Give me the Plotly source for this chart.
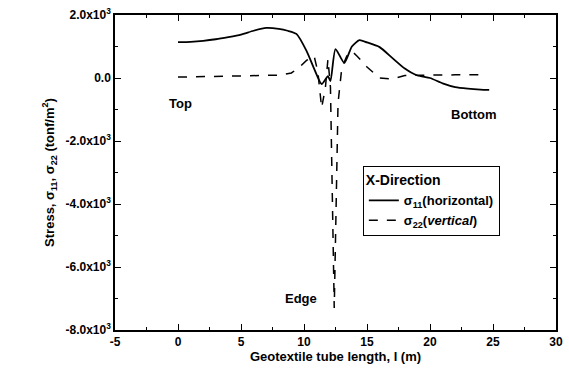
import plotly.graph_objects as go

# sigma_11 (horizontal), solid
l11 = [0, 1, 2, 3, 4, 5, 6, 7, 8, 8.7, 9.4, 10.2, 10.8, 11.4, 11.9, 12.1, 12.5, 13.2,
       13.8, 14.4, 15, 16, 17, 18, 19, 20, 21, 22, 23, 24, 24.7]
s11 = [1140, 1150, 1180, 1230, 1300, 1380, 1500, 1590, 1560, 1500, 1400, 860, 300, -190,
       60, -100, 920, 480, 1000, 1200, 1130, 980, 640, 300, 80, 0, -170, -290, -340, -370, -380]

# sigma_22 (vertical), dashed
l22 = [0, 2, 4, 6, 8, 9, 9.6, 10.2, 10.8, 11.1, 11.4, 11.7, 11.9, 12.1, 12.4, 12.7,
       13.0, 13.4, 13.8, 14.2, 15, 16, 17, 18, 20, 22, 24.3]
s22 = [30, 40, 50, 60, 90, 160, 330, 560, 700, 200, -950, -300, 600, -300, -7300, -800,
       320, 700, 850, 700, 350, 0, -30, 80, 100, 100, 100]

yticks = [2000, 0, -2000, -4000, -6000, -8000]
yticklabels = ["2.0x10<sup>3</sup>", "0.0", "-2.0x10<sup>3</sup>", "-4.0x10<sup>3</sup>",
               "-6.0x10<sup>3</sup>", "-8.0x10<sup>3</sup>"]
xticks = [-5, 0, 5, 10, 15, 20, 25, 30]
xticklabels = ["-5", "0", "5", "10", "15", "20", "25", "30"]

FONT = "Liberation Sans, Arial, sans-serif"

fig = go.Figure()
fig.add_trace(go.Scatter(x=l11, y=s11, mode="lines",
                         line=dict(color="black", width=1.8, shape="spline", smoothing=0.6),
                         name="σ<sub>11</sub>(horizontal)"))
fig.add_trace(go.Scatter(x=l22, y=s22, mode="lines",
                         line=dict(color="black", width=1.5, dash="dash"),
                         name="σ<sub>22</sub>(<i>vertical</i>)"))

for txt, x, y in [("Top", 0.2, -800), ("Bottom", 23.5, -1150), ("Edge", 9.8, -7000)]:
    fig.add_annotation(x=x, y=y, text=txt, showarrow=False,
                       font=dict(family=FONT, size=13, color="black", weight="bold"))

axis_common = dict(showline=True, linecolor="black", linewidth=1.5, mirror="ticks",
                   ticks="inside", ticklen=6, tickcolor="black", showgrid=False,
                   zeroline=False, automargin=False,
                   tickfont=dict(family=FONT, size=12, color="black", weight="bold"))

fig.update_xaxes(range=[-5, 30], tickvals=xticks, ticktext=xticklabels,
                 minor=dict(ticks="inside", ticklen=3, tickcolor="black", dtick=2.5),
                 title=dict(text="Geotextile tube length, l (m)", standoff=4,
                            font=dict(family=FONT, size=13, color="black", weight="bold")),
                 **axis_common)
fig.update_yaxes(range=[-8000, 2000], tickvals=yticks, ticktext=yticklabels,
                 minor=dict(ticks="inside", ticklen=3, tickcolor="black", dtick=1000),
                 title=dict(text="Stress, σ<sub>11</sub>, σ<sub>22</sub> (tonf/m<sup>2</sup>)",
                            standoff=8,
                            font=dict(family=FONT, size=13, color="black", weight="bold")),
                 **axis_common)

fig.update_layout(
    width=569, height=376,
    margin=dict(l=115, r=13, t=15, b=46, autoexpand=False),
    paper_bgcolor="white", plot_bgcolor="white",
    legend=dict(x=0.562, y=0.52, xanchor="left", yanchor="top",
                bordercolor="black", borderwidth=1, bgcolor="white",
                title=dict(text="X-Direction",
                           font=dict(family=FONT, size=14, color="black", weight="bold")),
                font=dict(family=FONT, size=13, color="black", weight="bold"),
                tracegroupgap=0, itemwidth=30),
    showlegend=True,
)

fig.write_html("out.html")
